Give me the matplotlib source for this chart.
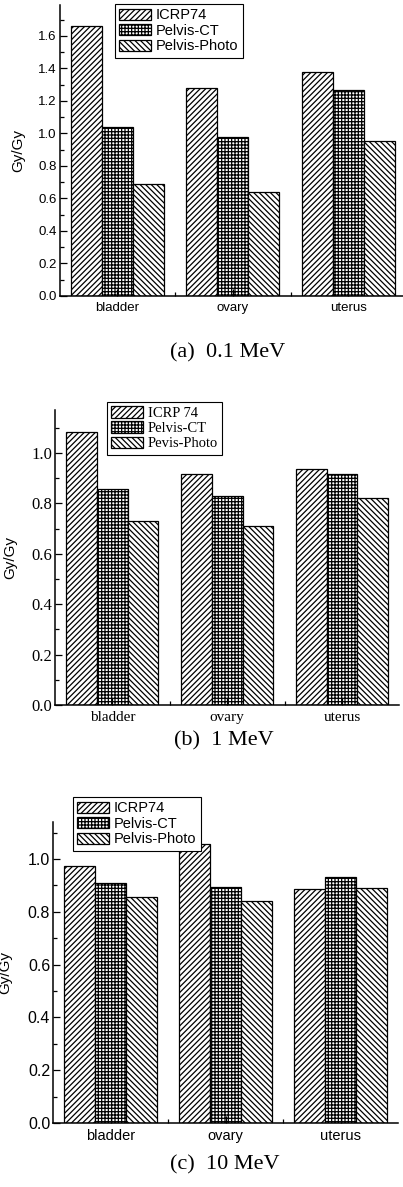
import numpy as np
import matplotlib
matplotlib.use("Agg")
import matplotlib.pyplot as plt
from matplotlib.ticker import MultipleLocator, FixedLocator

organs = ['bladder', 'ovary', 'uterus']

# (a) 0.1 MeV
icrp_01 = [1.66, 1.28, 1.38]
ct_01 = [1.04, 0.98, 1.27]
photo_01 = [0.69, 0.64, 0.955]

# (b) 1 MeV
icrp_1 = [1.083, 0.918, 0.937]
ct_1 = [0.855, 0.83, 0.915]
photo_1 = [0.73, 0.71, 0.82]

# (c) 10 MeV
icrp_10 = [0.973, 1.057, 0.885]
ct_10 = [0.908, 0.895, 0.93]
photo_10 = [0.857, 0.84, 0.889]

labels_a = ['ICRP74', 'Pelvis-CT', 'Pelvis-Photo']
labels_b = ['ICRP 74', 'Pelvis-CT', 'Pevis-Photo']
labels_c = ['ICRP74', 'Pelvis-CT', 'Pelvis-Photo']

W, H = 403, 1187
SANS = 'Liberation Sans'
SERIF = 'Liberation Serif'

plt.rcParams['hatch.linewidth'] = 0.9
fig = plt.figure(figsize=(W / 100, H / 100), dpi=100)


def add_ax(left, top, right, bottom):
    return fig.add_axes([left / W, 1 - bottom / H, (right - left) / W, (bottom - top) / H])


def panel(ax, icrp, ct, photo, labels, ymax, tickfont, tsize, xsize, legfont, lsize, legxy, ylab_x):
    x = np.arange(1, len(organs) + 1)
    w = 0.267
    hatches = ['//////', '+++++', '\\\\\\\\\\\\']
    for k, vals in enumerate([icrp, ct, photo]):
        ax.bar(x + (k - 1) * w, vals, w, color='white', edgecolor='black',
               hatch=hatches[k], linewidth=0.9, label=labels[k])
    ax.set_xlim(0.5, 3.5)
    ax.set_ylim(0, ymax)
    for s in ['top', 'right']:
        ax.spines[s].set_visible(False)
    for s in ['left', 'bottom']:
        ax.spines[s].set_linewidth(1.1)
    ax.set_xticks(x)
    ax.set_xticklabels(organs, fontfamily=tickfont, fontsize=xsize)
    ax.xaxis.set_minor_locator(FixedLocator([1.5, 2.5]))
    ax.yaxis.set_major_locator(MultipleLocator(0.2))
    ax.yaxis.set_minor_locator(MultipleLocator(0.1))
    ax.tick_params(which='both', direction='in', width=0.9)
    ax.tick_params(which='major', length=5)
    ax.tick_params(which='minor', length=3)
    ax.tick_params(axis='x', pad=4)
    ax.tick_params(axis='y', pad=2)
    for t in ax.get_yticklabels():
        t.set_fontfamily(tickfont)
        t.set_fontsize(tsize)
    ax.set_ylabel('Gy/Gy', fontfamily=SANS, fontsize=11)
    bb = ax.get_position()
    ax.yaxis.set_label_coords((ylab_x / W - bb.x0) / bb.width, 0.5)
    leg = ax.legend(loc='upper left', bbox_to_anchor=(legxy[0] / W, 1 - legxy[1] / H),
                    bbox_transform=fig.transFigure, borderaxespad=0, fancybox=False,
                    framealpha=1, edgecolor='black', prop={'family': legfont, 'size': lsize},
                    handlelength=2.2, handleheight=0.8, handletextpad=0.3,
                    labelspacing=0.1, borderpad=0.3)
    leg.get_frame().set_linewidth(0.8)
    leg.set_zorder(5)


ax1 = add_ax(59.5, 5, 406, 296)
panel(ax1, icrp_01, ct_01, photo_01, labels_a, 1.79, SANS, 9.5, 9.5, SANS, 10.5, (115, 4), 25)

ax2 = add_ax(55, 410, 399.4, 705)
panel(ax2, icrp_1, ct_1, photo_1, labels_b, 1.17, SERIF, 12, 11, SERIF, 10.5, (107, 402), 17)

ax3 = add_ax(53, 822, 398, 1123)
panel(ax3, icrp_10, ct_10, photo_10, labels_c, 1.14, SANS, 11.5, 10.5, SANS, 10.5, (73, 797), 12)

fig.text(228 / W, 1 - 353 / H, '(a)  0.1 MeV', ha='center', va='center', fontfamily=SERIF, fontsize=16)
fig.text(224 / W, 1 - 741 / H, '(b)  1 MeV', ha='center', va='center', fontfamily=SERIF, fontsize=16)
fig.text(225 / W, 1 - 1165 / H, '(c)  10 MeV', ha='center', va='center', fontfamily=SERIF, fontsize=16)

fig.savefig('out.png', dpi=100)
